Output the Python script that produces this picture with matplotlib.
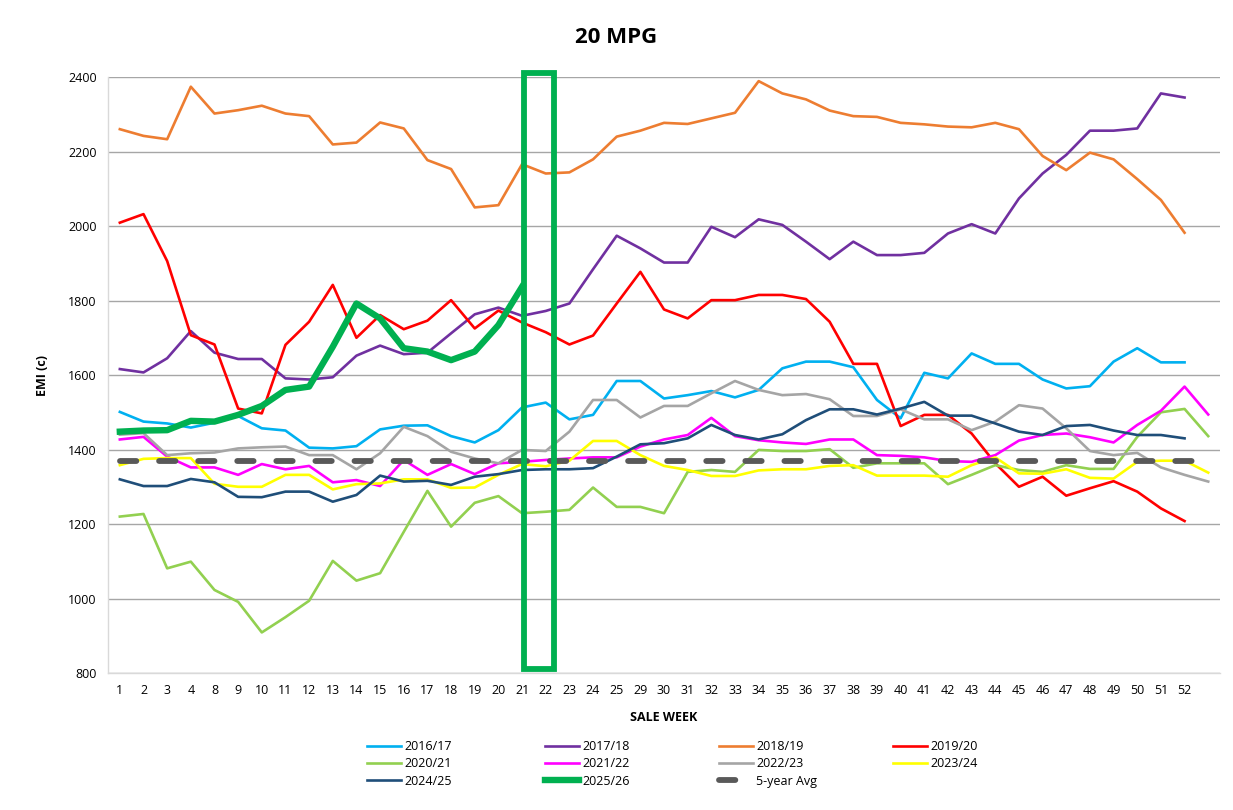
import matplotlib
matplotlib.use("Agg")
import matplotlib.pyplot as plt
from matplotlib.patches import Rectangle

plt.rcParams['font.family'] = ['Open Sans', 'DejaVu Sans']

weeks = ['1', '2', '3', '4', '8', '9', '10', '11', '12', '13', '14', '15', '16', '17', '18', '19',
         '20', '21', '22', '23', '24', '25', '29', '30', '31', '32', '33', '34', '35', '36', '37',
         '38', '39', '40', '41', '42', '43', '44', '45', '46', '47', '48', '49', '50', '51', '52', '']

s2016 = [1501, 1475, 1470, 1459, 1472, 1490, 1457, 1451, 1405, 1403, 1409, 1454, 1464, 1465, 1436, 1419,
         1452, 1513, 1526, 1481, 1493, 1584, 1584, 1537, 1546, 1557, 1540, 1560, 1618, 1636, 1636,
         1621, 1533, 1484, 1606, 1591, 1658, 1630, 1630, 1588, 1564, 1570, 1636, 1672, 1634, 1634]
s2017 = [1616, 1607, 1645, 1718, 1660, 1643, 1643, 1591, 1588, 1594, 1652, 1679, 1656, 1660, 1712, 1763,
         1781, 1759, 1772, 1792, 1884, 1974, 1940, 1902, 1902, 1998, 1970, 2018, 2003, 1958, 1911,
         1958, 1922, 1922, 1928, 1980, 2005, 1980, 2074, 2141, 2191, 2256, 2256, 2262, 2356, 2345]
s2018 = [2260, 2242, 2233, 2374, 2302, 2311, 2323, 2302, 2295, 2219, 2224, 2278, 2262, 2177, 2153, 2050,
         2056, 2166, 2141, 2144, 2179, 2240, 2256, 2277, 2274, 2289, 2304, 2389, 2356, 2340, 2310,
         2295, 2293, 2277, 2273, 2267, 2265, 2277, 2260, 2188, 2150, 2197, 2179, 2126, 2070, 1982]
s2019 = [2009, 2032, 1906, 1707, 1682, 1510, 1497, 1681, 1743, 1842, 1700, 1761, 1723, 1746, 1801, 1725,
         1773, 1741, 1715, 1682, 1706, 1792, 1877, 1776, 1752, 1801, 1801, 1815, 1815, 1804, 1743,
         1630, 1630, 1463, 1493, 1493, 1443, 1363, 1300, 1327, 1276, 1296, 1315, 1287, 1242, 1208]
s2020 = [1220, 1227, 1081, 1099, 1023, 991, 909, 950, 994, 1101, 1048, 1068, 1179, 1289, 1193, 1257,
         1275, 1229, 1233, 1238, 1298, 1246, 1246, 1229, 1340, 1345, 1340, 1399, 1396, 1396, 1401,
         1351, 1363, 1363, 1363, 1307, 1332, 1358, 1345, 1340, 1358, 1348, 1348, 1434, 1500, 1509, 1436]
s2021 = [1427, 1434, 1381, 1352, 1352, 1332, 1361, 1347, 1356, 1312, 1318, 1302, 1372, 1332, 1361, 1334,
         1363, 1367, 1372, 1376, 1379, 1379, 1408, 1427, 1439, 1485, 1436, 1425, 1419, 1415, 1427,
         1427, 1385, 1383, 1379, 1369, 1367, 1385, 1424, 1439, 1443, 1433, 1419, 1466, 1504, 1569, 1494]
s2022 = [1440, 1444, 1385, 1390, 1392, 1403, 1406, 1408, 1385, 1385, 1347, 1390, 1461, 1436, 1394, 1376,
         1363, 1399, 1396, 1448, 1533, 1533, 1486, 1517, 1517, 1551, 1584, 1560, 1546, 1549, 1535,
         1490, 1490, 1508, 1481, 1481, 1452, 1475, 1519, 1510, 1457, 1396, 1385, 1391, 1352, 1332, 1314]
s2023 = [1358, 1375, 1377, 1377, 1308, 1300, 1300, 1332, 1332, 1293, 1307, 1309, 1320, 1320, 1297, 1298,
         1332, 1361, 1355, 1370, 1423, 1423, 1385, 1356, 1345, 1329, 1329, 1344, 1347, 1347, 1356,
         1358, 1330, 1330, 1330, 1327, 1358, 1379, 1336, 1335, 1347, 1324, 1322, 1367, 1370, 1370, 1338]
s2024 = [1320, 1302, 1302, 1321, 1312, 1273, 1272, 1287, 1287, 1260, 1278, 1330, 1314, 1316, 1305, 1327,
         1334, 1345, 1347, 1347, 1350, 1381, 1414, 1417, 1430, 1466, 1439, 1427, 1441, 1479, 1508,
         1508, 1494, 1510, 1528, 1491, 1491, 1470, 1448, 1439, 1463, 1466, 1451, 1439, 1439, 1430]
s2025 = [1448, 1451, 1452, 1477, 1475, 1493, 1517, 1560, 1569, 1676, 1792, 1752, 1672, 1663, 1640, 1663,
         1734, 1837]
avg5 = [1368] * 47

series_labels = ['2016/17', '2017/18', '2018/19', '2019/20', '2020/21', '2021/22', '2022/23',
                 '2023/24', '2024/25', '2025/26']
series_values = [s2016, s2017, s2018, s2019, s2020, s2021, s2022, s2023, s2024, s2025]
series_colors = ['#00B0F0', '#7030A0', '#ED7D31', '#FF0000', '#92D050', '#FF00FF', '#A5A5A5',
                 '#FFFF00', '#1F4E79', '#00B050']
highlight_weeks = ['21', '22']

fig = plt.figure(figsize=(12.33, 8.10), dpi=100)
ax = fig.add_axes([0.0876, 0.1691, 0.9019, 0.7358])

handles = []
for lab, vals, col in zip(series_labels, series_values, series_colors):
    lw = 4.6 if lab == '2025/26' else 1.9
    h, = ax.plot(range(len(vals)), vals, color=col, lw=lw, label=lab,
                 solid_joinstyle='round', zorder=3 if lab != '2025/26' else 5)
    handles.append(h)
h, = ax.plot(range(len(avg5)), avg5, color='#595959', lw=4.2, ls=(0, (2.8, 3.9)),
             dash_capstyle='round', label='5-year Avg', zorder=4)
handles.append(h)

# highlight box around weeks 21-22
i0 = weeks.index(highlight_weeks[0])
i1 = weeks.index(highlight_weeks[1])
rect = Rectangle((i0 + 0.1, 811), (i1 - i0) + 0.23, 1600, fill=False, ec='#00B050', lw=4.2,
                 zorder=6, clip_on=False)
ax.add_patch(rect)

ax.set_xlim(-0.5, 46.5)
ax.set_ylim(800, 2400)
ax.set_xticks(range(len(weeks)))
ax.set_xticklabels(weeks, fontsize=9)
ax.set_yticks(range(800, 2401, 200))
ax.set_yticklabels([str(v) for v in range(800, 2401, 200)], fontsize=9)
ax.tick_params(length=0, pad=8)
ax.grid(axis='y', color='#A6A6A6', lw=1)
ax.set_axisbelow(True)
for sp in ['top', 'right']:
    ax.spines[sp].set_visible(False)
for sp in ['left', 'bottom']:
    ax.spines[sp].set_color('#D9D9D9')
    ax.spines[sp].set_linewidth(1)

ax.set_xlabel('SALE WEEK', fontsize=9, fontweight='bold', labelpad=10)
ax.set_ylabel('EMI (c)', fontsize=9, fontweight='bold', labelpad=14)
fig.text(0.4995, 0.954, '20 MPG', ha='center', va='center', fontsize=16, fontweight='bold')

# legend: four evenly spaced columns, filled row by row
all_labels = series_labels + ['5-year Avg']
col_x = [367, 545, 719, 893]
for c in range(4):
    idx = list(range(c, len(handles), 4))
    fig.legend([handles[i] for i in idx], [all_labels[i] for i in idx],
               loc='upper left', bbox_to_anchor=(col_x[c] / 1233, 1 - 740 / 810),
               frameon=False, fontsize=9, handlelength=2.7, labelspacing=0.35,
               handletextpad=0.3, borderpad=0, borderaxespad=0)

fig.savefig('out.png', dpi=100)
